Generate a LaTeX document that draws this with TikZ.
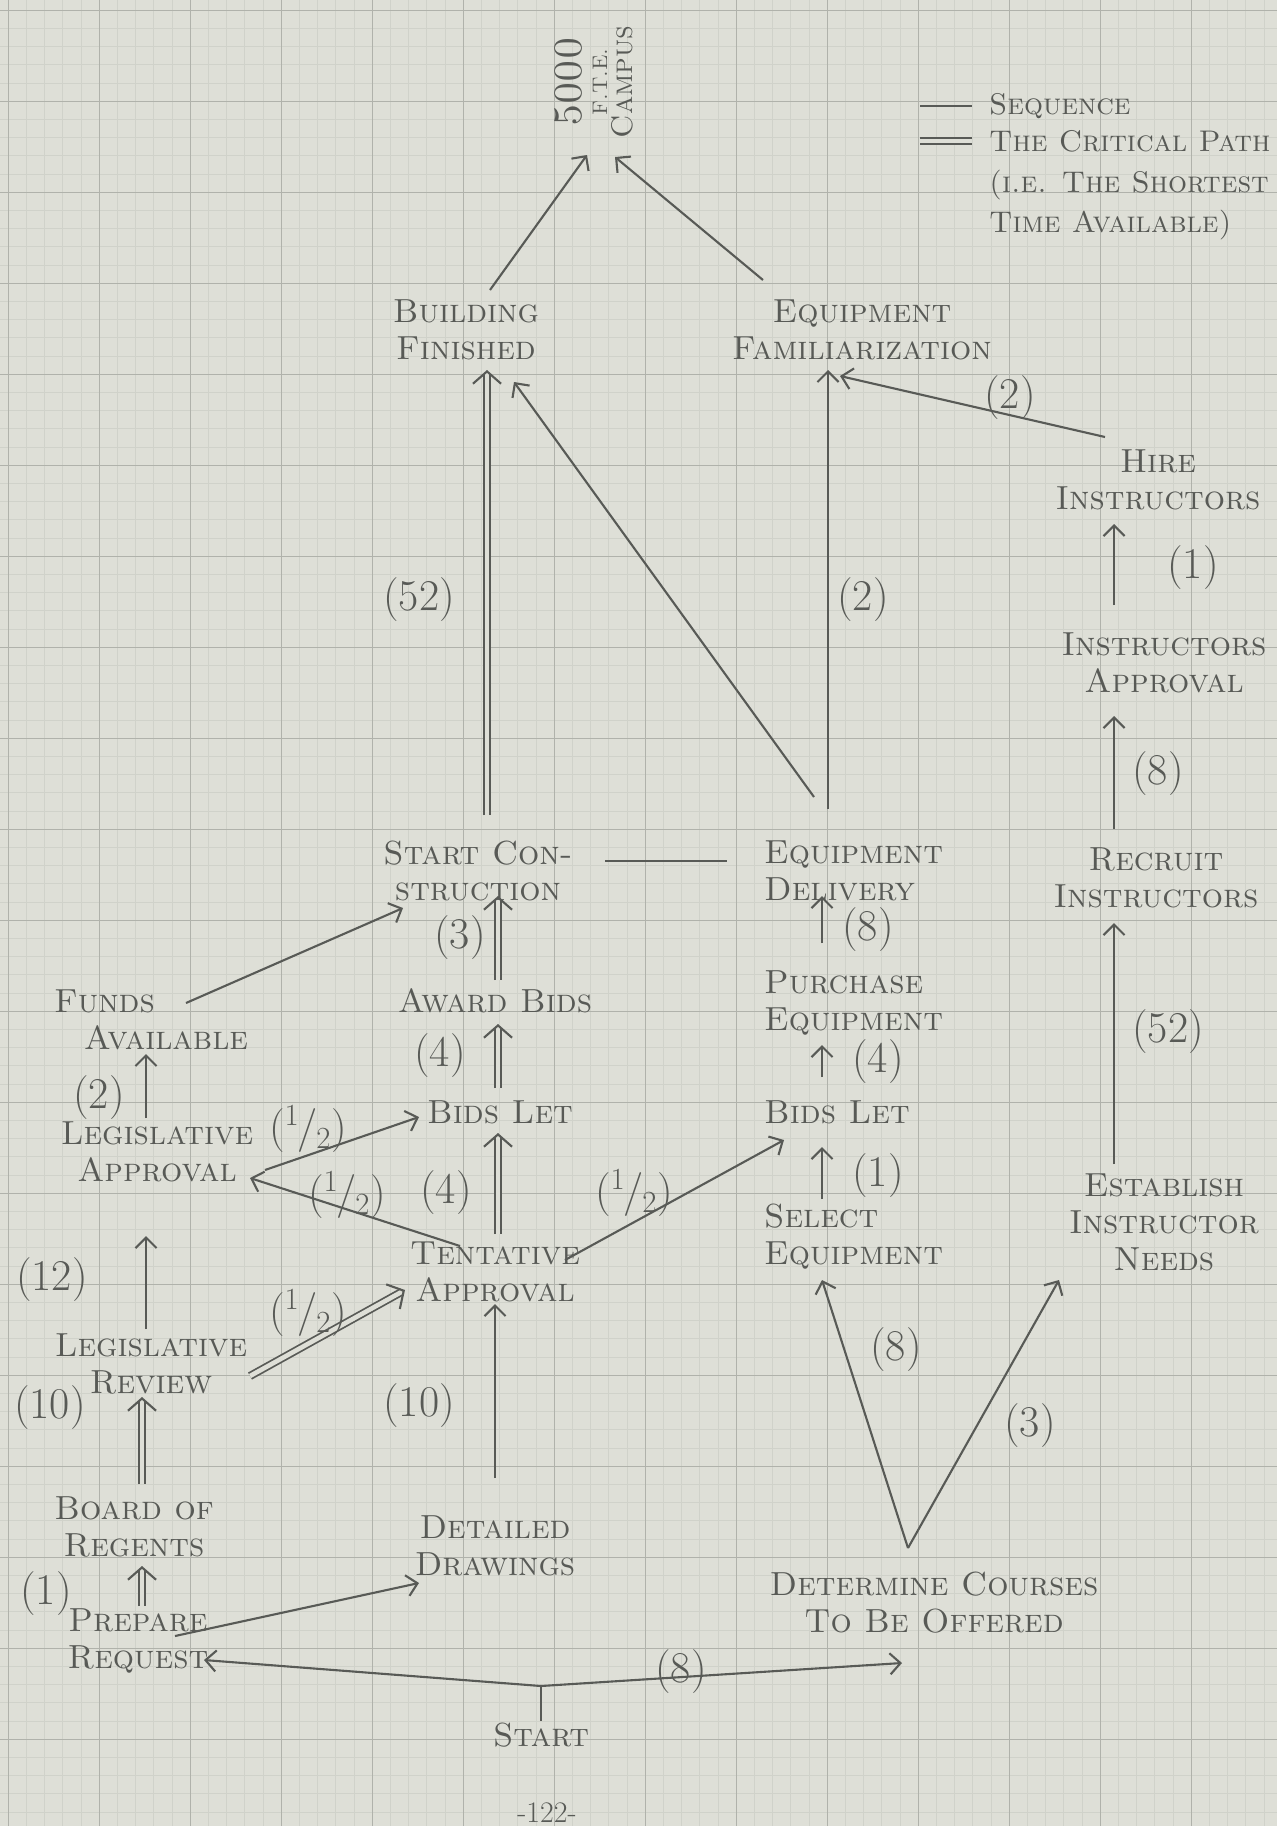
\documentclass[tikz,border=0pt]{standalone}
\usepackage{tikz}
\usetikzlibrary{arrows.meta,calc}
\definecolor{paper}{RGB}{222,223,215}
\definecolor{ink}{RGB}{88,90,86}
\definecolor{gridmaj}{RGB}{176,178,171}
\definecolor{gridmin}{RGB}{208,210,202}
\tikzstyle{event}=[font=\fontsize{19}{21}\selectfont\scshape, text=ink, align=center, inner sep=1pt]
\tikzstyle{legendtxt}=[font=\fontsize{17}{19}\selectfont\scshape, text=ink, align=left, inner sep=1pt, anchor=west]
\tikzstyle{wk}=[font=\fontsize{25}{27}\selectfont, text=ink, inner sep=1pt]
\tikzstyle{seq}=[draw=ink, line width=1.2pt, -{Straight Barb[length=6pt,width=12pt]}]
\tikzstyle{crit}=[draw=ink, line width=1pt, double=paper, double distance=2.6pt, shorten >=2pt]
\tikzstyle{crithead}=[draw=ink, line width=1.2pt, -{Straight Barb[length=7pt,width=16pt]}]
\tikzstyle{plain}=[draw=ink, line width=1.2pt]
\tikzstyle{gmaj}=[draw=gridmaj, line width=0.5pt]
\tikzstyle{gmin}=[draw=gridmin, line width=0.3pt]
\newcommand{\halfwk}{(\textsuperscript{1}\kern-1pt/\kern-1pt\textsubscript{2})}
\newcommand{\critarrow}[2]{
 \coordinate (ca) at #1;
 \coordinate (cb) at #2;
 \draw[crit] (ca) -- (cb);
 \draw[crithead] ($(cb)!1pt!(ca)$) -- (cb);
}

\begin{document}
\begin{tikzpicture}[x=0.02cm, y=-0.02cm]
 \useasboundingbox (0,0) rectangle (1277,1826);
 \fill[paper] (0,0) rectangle (1277,1826);
% graph paper
 \foreach \i in {0,...,69} {
  \draw[gmin] (8+18.2*\i,0) -- (8+18.2*\i,1826);
 }
 \foreach \i in {0,...,100} {
  \draw[gmin] (0,10+18.2*\i) -- (1277,10+18.2*\i);
 }
 \foreach \i in {0,...,13} {
  \draw[gmaj] (8+91*\i,0) -- (8+91*\i,1826);
 }
 \foreach \i in {0,...,19} {
  \draw[gmaj] (0,10+91*\i) -- (1277,10+91*\i);
 }
%
% legend
 \node[legendtxt] (lseq) at (987,106) {Sequence};
 \node[legendtxt] (lcrit) at (987,141) {The Critical Path};
 \node[legendtxt] (lie) at (987,185) {(i.e. The Shortest};
 \node[legendtxt] (ltime) at (987,225) {Time Available)};
 \draw[plain] (920,106) -- (972,106);
 \draw[plain, double=paper, double distance=2.6pt, line width=1pt] (920,141) -- (972,141);
%
% events
 \node[event, rotate=90, font=\fontsize{17}{14.5}\selectfont\scshape] (campus) at (594,82)
  {{\fontsize{23}{14.5}\selectfont 5000}\\{\fontsize{12}{14.5}\selectfont F.T.E.}\\Campus};
 \node[event] (bf) at (466,330) {Building\\Finished};
 \node[event] (ef) at (862,330) {Equipment\\Familiarization};
 \node[event] (hire) at (1158,480) {Hire\\Instructors};
 \node[event] (iappr) at (1164,663) {Instructors\\Approval};
 \node[event] (recr) at (1156,878) {Recruit\\Instructors};
 \node[event] (estab) at (1164,1222) {Establish\\Instructor\\Needs};
 \node[event] (sc) at (478,871) {Start Con-\\struction};
 \node[event, anchor=west, align=left] (ed) at (762,871) {Equipment\\Delivery};
 \node[event, anchor=west, align=left] (pe) at (762,1003) {Purchase\\Equipment};
 \node[event, anchor=west, align=left] (blr) at (762,1112) {Bids Let};
 \node[event, anchor=west, align=left] (se) at (762,1237) {Select\\Equipment};
 \node[event] (dc) at (934,1603) {Determine Courses\\To Be Offered};
 \node[event] (start) at (541,1735) {Start};
 \node[event, font=\fontsize{17}{19}\selectfont] (pnum) at (547,1813) {-122-};
 \node[event] (pr) at (138,1641) {Prepare\\Request};
 \node[event] (bor) at (134,1527) {Board of\\Regents};
 \node[event] (lr) at (151,1364) {Legislative\\Review};
 \node[event] (la) at (157,1152) {Legislative\\Approval};
 \node[event, align=left] (fa) at (151,1020) {Funds\\\hspace*{0.6cm}Available};
 \node[event] (ab) at (495,1001) {Award Bids};
 \node[event] (bll) at (500,1112) {Bids Let};
 \node[event] (ta) at (495,1272) {Tentative\\Approval};
 \node[event] (dd) at (495,1546) {Detailed\\Drawings};
 \coordinate (fork) at (541,1686);
%
% instructors
 \draw[seq] ($(hire)+(-53,-43)$) -- ($(ef)+(-22,46)$);
 \draw[seq] ($(iappr)+(-50,-58)$) -- ($(hire)+(-44,44)$);
 \draw[seq] ($(recr)+(-42,-49)$) -- ($(iappr)+(-50,53)$);
 \draw[seq] ($(estab)+(-50,-58)$) -- ($(recr)+(-42,45)$);
 \draw[seq] ($(dc)+(-26,-55)$) -- ($(estab)+(-105,58)$);
%
% equipment
 \draw[seq] ($(dc)+(-26,-55)$) -- ($(se.west)+(60,43)$);
 \draw[seq] ($(se.west)+(60,-38)$) -- ($(blr.west)+(60,35)$);
 \draw[seq] ($(blr.west)+(60,-35)$) -- ($(pe.west)+(60,42)$);
 \draw[seq] ($(pe.west)+(60,-60)$) -- ($(ed.west)+(60,25)$);
 \draw[seq] ($(ed.west)+(66,-62)$) -- ($(ef)+(-34,40)$);
 \draw[seq] ($(ed.west)+(52,-74)$) -- ($(bf)+(48,52)$);
 \draw[plain] ($(sc)+(127,-10)$) -- ($(ed.west)+(-35,-10)$);
%
% building
 \draw[seq] ($(bf)+(24,-40)$) -- ($(campus)+(-7,73)$);
 \draw[seq] ($(ef)+(-99,-50)$) -- ($(campus)+(21,75)$);
 \critarrow{($(sc)+(9,-56)$)}{($(bf)+(21,40)$)}
 \critarrow{($(ab)+(3,-21)$)}{($(sc)+(20,25)$)}
 \critarrow{($(bll)+(-2,-24)$)}{($(ab)+(3,23)$)}
 \critarrow{($(ta)+(3,-38)$)}{($(bll)+(-2,21)$)}
 \draw[seq] ($(ta)+(70,-12)$) -- ($(blr.west)+(22,28)$);
 \draw[seq] ($(ta)+(-35,-26)$) -- ($(la)+(93,26)$);
 \draw[seq] ($(dd)+(0,-68)$) -- ($(ta)+(0,32)$);
 \draw[seq] ($(fa)+(35,-17)$) -- ($(sc)+(-75,37)$);
 \draw[seq] ($(la)+(108,18)$) -- ($(bll)+(-81,5)$);
 \draw[seq] ($(la)+(-11,-34)$) -- ($(fa)+(-5,34)$);
 \draw[seq] ($(lr)+(-5,-35)$) -- ($(la)+(-11,84)$);
 \critarrow{($(lr)+(99,12)$)}{($(ta)+(-90,18)$)}
 \critarrow{($(bor)+(8,-43)$)}{($(lr)+(-9,33)$)}
 \critarrow{($(pr)+(4,-35)$)}{($(bor)+(8,39)$)}
 \draw[seq] ($(pr)+(37,-5)$) -- ($(dd)+(-76,37)$);
%
% start
 \draw[plain] (start.north) -- (fork);
 \draw[seq] (fork) -- ($(pr)+(66,19)$);
 \draw[seq] (fork) -- ($(dc)+(-32,60)$);
%
% durations
 \node[wk] (w1) at (1010,398) {(2)};
 \node[wk] (w2) at (1193,568) {(1)};
 \node[wk] (w3) at (1158,774) {(8)};
 \node[wk] (w4) at (1168,1032) {(52)};
 \node[wk] (w5) at (419,600) {(52)};
 \node[wk] (w6) at (863,600) {(2)};
 \node[wk] (w7) at (868,930) {(8)};
 \node[wk] (w8) at (878,1062) {(4)};
 \node[wk] (w9) at (878,1176) {(1)};
 \node[wk] (w10) at (896,1350) {(8)};
 \node[wk] (w11) at (1030,1426) {(3)};
 \node[wk] (w12) at (681,1672) {(8)};
 \node[wk] (w13) at (46,1594) {(1)};
 \node[wk] (w14) at (50,1408) {(10)};
 \node[wk] (w15) at (52,1280) {(12)};
 \node[wk] (w16) at (308,1313) {\halfwk};
 \node[wk] (w17) at (419,1406) {(10)};
 \node[wk] (w18) at (99,1098) {(2)};
 \node[wk] (w19) at (308,1129) {\halfwk};
 \node[wk] (w20) at (347,1195) {\halfwk};
 \node[wk] (w21) at (446,1193) {(4)};
 \node[wk] (w22) at (634,1193) {\halfwk};
 \node[wk] (w23) at (440,1056) {(4)};
 \node[wk] (w24) at (460,938) {(3)};
\end{tikzpicture}
\end{document}
